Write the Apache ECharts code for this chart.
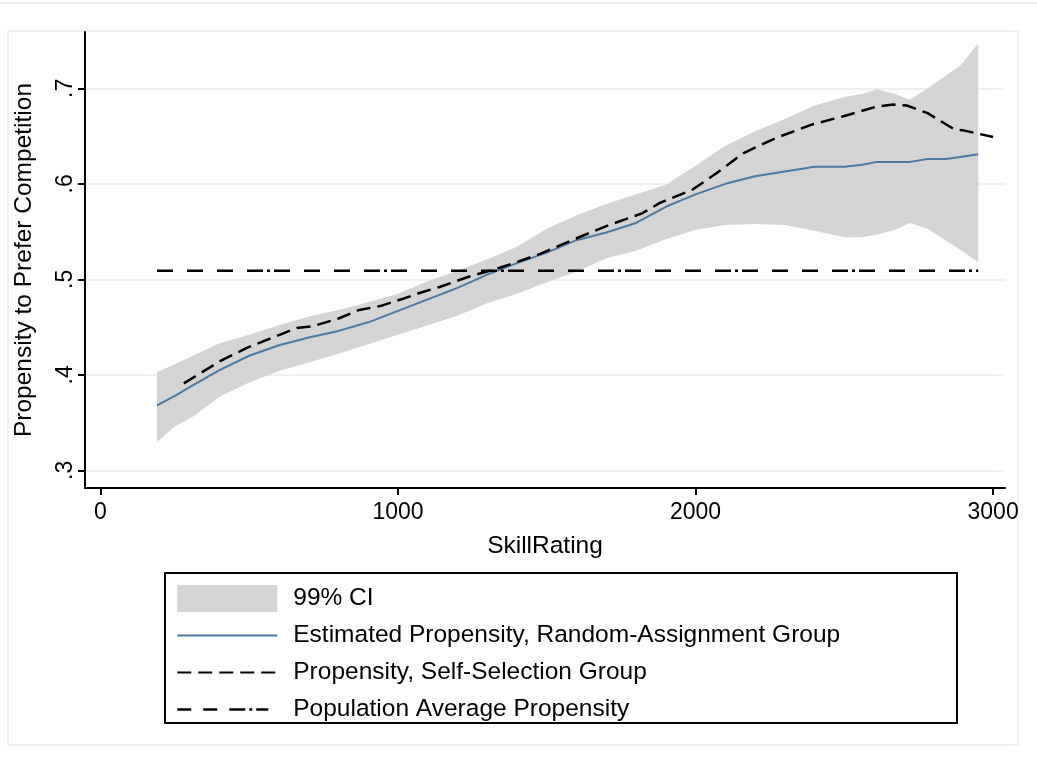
<!DOCTYPE html>
<html>
<head>
<meta charset="utf-8">
<script src="https://cdn.jsdelivr.net/npm/echarts@6/dist/echarts.min.js"></script>
<style>
  html, body { margin: 0; padding: 0; background: #fff; }
  #chart { width: 1037px; height: 771px; }
</style>
</head>
<body>
<div id="chart"></div>
<script>
// SkillRating bins for the random-assignment estimate and its 99% CI
const ciX = [190, 250, 310, 400, 500, 600, 700, 800, 900, 1000, 1100, 1200, 1300, 1400, 1500,
  1600, 1700, 1800, 1900, 2000, 2100, 2200, 2300, 2400, 2500, 2560, 2610, 2670, 2720, 2780,
  2840, 2890, 2950];
const ciUpper = [0.403, 0.411, 0.420, 0.433, 0.442, 0.452, 0.461, 0.468, 0.476, 0.485, 0.498,
  0.509, 0.521, 0.534, 0.553, 0.567, 0.579, 0.589, 0.599, 0.619, 0.640, 0.655, 0.668, 0.682,
  0.691, 0.694, 0.699, 0.694, 0.688, 0.700, 0.713, 0.724, 0.747];
const ciLower = [0.330, 0.346, 0.356, 0.377, 0.392, 0.404, 0.413, 0.422, 0.432, 0.442, 0.452,
  0.462, 0.475, 0.485, 0.497, 0.508, 0.522, 0.530, 0.542, 0.552, 0.557, 0.558, 0.557, 0.551,
  0.544, 0.544, 0.547, 0.552, 0.559, 0.553, 0.541, 0.531, 0.518];
const randomEst = [0.368, 0.378, 0.389, 0.405, 0.420, 0.431, 0.439, 0.446, 0.455, 0.467, 0.479,
  0.491, 0.505, 0.517, 0.528, 0.541, 0.549, 0.559, 0.576, 0.589, 0.600, 0.608, 0.613, 0.618,
  0.618, 0.620, 0.623, 0.623, 0.623, 0.626, 0.626, 0.628, 0.631];

// self-selection group
const selfX = [280, 400, 490, 570, 660, 715, 800, 870, 940, 1020, 1075, 1140, 1240, 1320, 1390,
  1480, 1540, 1600, 1710, 1820, 1880, 1990, 2070, 2160, 2220, 2270, 2390, 2500, 2610, 2665,
  2710, 2780, 2870, 2900, 3000];
const selfProp = [0.391, 0.414, 0.428, 0.438, 0.449, 0.451, 0.459, 0.468, 0.472, 0.480, 0.486,
  0.492, 0.503, 0.510, 0.517, 0.527, 0.535, 0.543, 0.557, 0.569, 0.580, 0.594, 0.611, 0.632,
  0.641, 0.648, 0.662, 0.671, 0.681, 0.683, 0.682, 0.674, 0.657, 0.656, 0.649];

// population average
const popX = [190, 2950];
const popAvg = 0.509;

const xTicks = [0, 1000, 2000, 3000];
const yTicks = [0.3, 0.4, 0.5, 0.6, 0.7];

const FONT = 'Liberation Sans, Arial, Helvetica, sans-serif';
const BAND = '#d4d4d4';
const pairs = (xs, ys) => xs.map((x, i) => [x, ys[i]]);

const chart = echarts.init(document.getElementById('chart'));

// CI band: one polygon, upper edge left->right then lower edge back
const renderBand = (params, api) => {
  if (params.dataIndex !== 0) return null;
  const top = ciX.map((x, i) => api.coord([x, ciUpper[i]]));
  const bottom = ciX.map((x, i) => api.coord([x, ciLower[i]])).reverse();
  return {
    type: 'polygon',
    shape: { points: top.concat(bottom) },
    style: { fill: BAND, stroke: null }
  };
};

const option = {
  animation: false,
  backgroundColor: '#fff',
  textStyle: { fontFamily: FONT, color: '#000' },
  graphic: [
    { type: 'line', shape: { x1: 0, y1: 3, x2: 1037, y2: 3 }, style: { stroke: '#edf1f6', lineWidth: 2 } },
    { type: 'rect', shape: { x: 8, y: 31, width: 1010, height: 714 }, style: { fill: null, stroke: '#edf1f6', lineWidth: 2 } },
    { type: 'rect', shape: { x: 165, y: 573, width: 792, height: 150 }, style: { fill: null, stroke: '#000', lineWidth: 2 } }
  ],
  grid: { left: 85, right: 32, top: 32, bottom: 283 },
  xAxis: {
    type: 'value',
    min: -52,
    max: 3040,
    name: 'SkillRating',
    nameLocation: 'middle',
    nameGap: 46,
    nameTextStyle: { fontSize: 24.5, color: '#000', fontFamily: FONT },
    axisLine: { onZero: false, lineStyle: { color: '#000', width: 2 } },
    axisTick: { customValues: xTicks, length: 7, lineStyle: { color: '#000', width: 2 } },
    axisLabel: {
      customValues: xTicks,
      fontSize: 23,
      color: '#000',
      margin: 13,
      fontFamily: FONT,
      formatter: v => String(v)
    },
    splitLine: { show: false }
  },
  yAxis: {
    type: 'value',
    min: 0.2815,
    max: 0.759,
    name: 'Propensity to Prefer Competition',
    nameLocation: 'middle',
    nameGap: 48,
    nameTextStyle: { fontSize: 24.5, color: '#000', fontFamily: FONT },
    axisLine: { onZero: false, lineStyle: { color: '#000', width: 2 } },
    axisTick: { customValues: yTicks, length: 7, lineStyle: { color: '#000', width: 2 } },
    axisLabel: {
      customValues: yTicks,
      fontSize: 23,
      color: '#000',
      rotate: 90,
      margin: 8,
      fontFamily: FONT,
      formatter: v => String(+v.toFixed(1)).replace(/^0/, '')
    },
    splitLine: { show: true, lineStyle: { color: '#edf1f6', width: 2 } }
  },
  legend: {
    orient: 'vertical',
    left: 176,
    top: 585,
    padding: 0,
    itemWidth: 100,
    itemHeight: 27,
    itemGap: 10,
    selectedMode: false,
    itemStyle: { opacity: 0 },
    textStyle: { fontSize: 24.5, lineHeight: 27, color: '#000', fontFamily: FONT, padding: [0, 0, 0, 11] },
    data: [
      { name: '99% CI', icon: 'rect', itemStyle: { color: BAND, opacity: 1 } },
      'Estimated Propensity, Random-Assignment Group',
      'Propensity, Self-Selection Group',
      {
        name: 'Population Average Propensity',
        lineStyle: { color: '#000', width: 2.5, type: [14, 12, 14, 12, 16, 4, 3, 4, 12, 20] }
      }
    ]
  },
  series: [
    {
      name: '99% CI',
      type: 'custom',
      renderItem: renderBand,
      data: pairs(ciX, ciUpper),
      encode: { x: 0, y: 1 },
      itemStyle: { color: BAND },
      silent: true,
      z: 1
    },
    {
      name: 'Estimated Propensity, Random-Assignment Group',
      type: 'line',
      data: pairs(ciX, randomEst),
      symbol: 'none',
      itemStyle: { color: '#4d7aa3' },
      lineStyle: { color: '#4d7aa3', width: 2 },
      z: 3
    },
    {
      name: 'Propensity, Self-Selection Group',
      type: 'line',
      data: pairs(selfX, selfProp),
      symbol: 'none',
      itemStyle: { color: '#000' },
      lineStyle: { color: '#000', width: 2.5, type: [14, 7] },
      z: 4
    },
    {
      name: 'Population Average Propensity',
      type: 'line',
      data: popX.map(x => [x, popAvg]),
      symbol: 'none',
      itemStyle: { color: '#000' },
      lineStyle: { color: '#000', width: 2.5, type: [16, 14, 16, 14, 16, 14, 16, 4, 3, 4] },
      z: 4
    }
  ]
};

chart.setOption(option);
</script>
</body>
</html>
